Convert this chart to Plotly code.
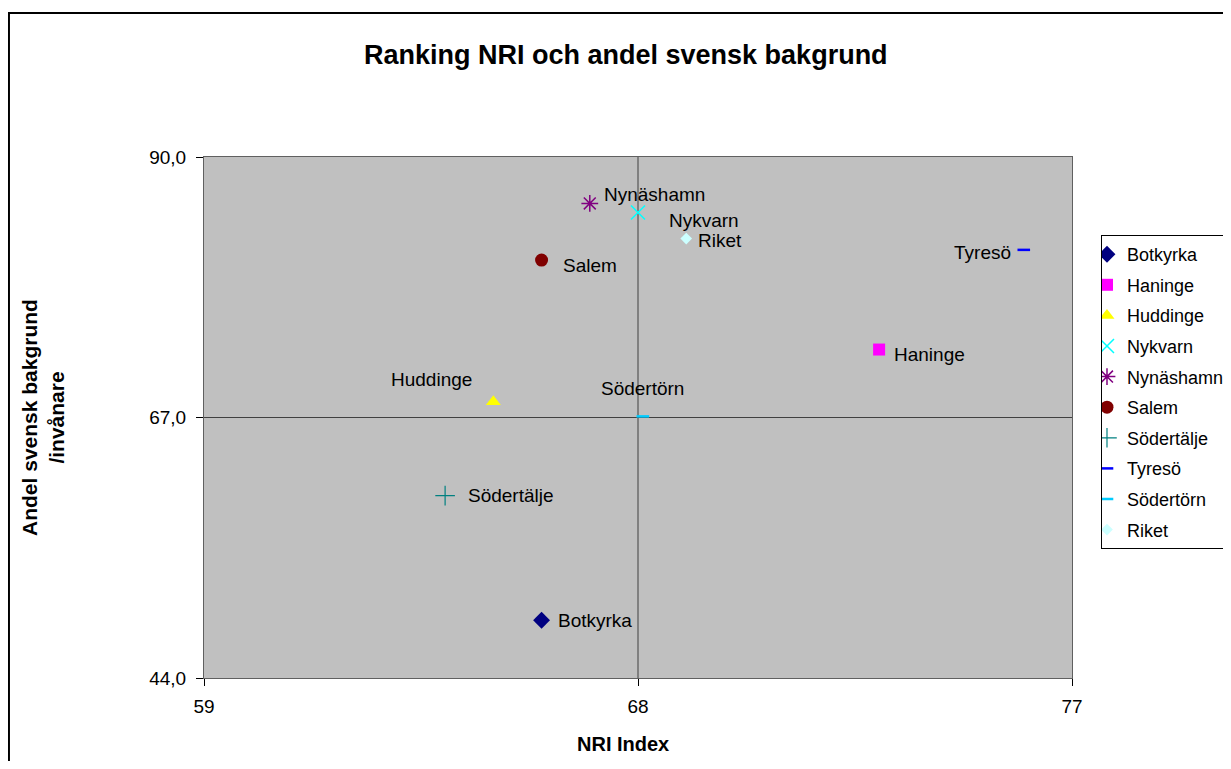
import plotly.graph_objects as go

# ---- data ----
names = ["Botkyrka", "Haninge", "Huddinge", "Nykvarn", "Nynäshamn",
         "Salem", "Södertälje", "Tyresö", "Södertörn", "Riket"]
nri_index = [66.0, 73.0, 65.0, 68.0, 67.0, 66.0, 64.0, 76.0, 68.1, 69.0]
andel_svensk = [49.1, 73.0, 68.4, 85.1, 85.9, 80.9, 60.1, 81.8, 67.1, 82.8]
x_ticks = [59, 68, 77]
y_ticks = [44.0, 67.0, 90.0]
cross_x = 68
cross_y = 67.0

# ---- styles ----
symbols = ["diamond", "square", "triangle-up", "x-thin-open", "asterisk-open",
           "circle", "cross-thin-open", "line-ew-open", "line-ew-open", "diamond"]
colors = ["#000080", "#FF00FF", "#FFFF00", "#00FFFF", "#800080",
          "#800000", "#008080", "#0000FF", "#00CCFF", "#CCFFFF"]
sizes = [13, 12, 13, 14, 14, 13, 14, 9, 9, 9]
line_w = [0, 0, 0, 1.5, 1.5, 0, 1.2, 2.5, 2.5, 0]
# label offsets (xanchor, xshift, yshift), same order as names
label_pos = [("left", 14, 0), ("left", 13, -5), ("right", -19, 22),
             ("left", 29, -8), ("left", 12, 9), ("left", 19, -5),
             ("left", 21, 0), ("right", -11, -3), ("center", 0, 28),
             ("left", 10, -2)]

FONT = "Liberation Sans, Arial, sans-serif"

fig = go.Figure()
for i, n in enumerate(names):
    fig.add_trace(go.Scatter(
        x=[nri_index[i]], y=[andel_svensk[i]], mode="markers", name=n,
        legendgroup=n,
        marker=dict(symbol=symbols[i], color=colors[i], size=sizes[i],
                    line=dict(color=colors[i], width=line_w[i])),
        cliponaxis=False,
    ))

annotations = []
for i, n in enumerate(names):
    xa, xs, ys = label_pos[i]
    annotations.append(dict(
        x=nri_index[i], y=andel_svensk[i], xref="x", yref="y", text=n,
        showarrow=False, xanchor=xa, yanchor="middle", xshift=xs, yshift=ys,
        font=dict(size=19, color="black", family=FONT)))

annotations += [
    dict(text="<b>Ranking NRI och andel svensk bakgrund</b>", x=0.486, y=1.1958,
         xref="paper", yref="paper", showarrow=False, xanchor="center",
         yanchor="middle", font=dict(size=27, color="black", family=FONT)),
    dict(text="<b>NRI Index</b>", x=0.4827, y=-0.1267, xref="paper", yref="paper",
         showarrow=False, xanchor="center", yanchor="middle",
         font=dict(size=20, color="black", family=FONT)),
    dict(text="<b>Andel svensk bakgrund<br>/invånare</b>", x=-0.1855, y=0.501,
         xref="paper", yref="paper", showarrow=False, xanchor="center",
         yanchor="middle", textangle=-90,
         font=dict(size=21, color="black", family=FONT)),
]

shapes = [
    dict(type="rect", xref="paper", yref="paper", x0=-0.2247, x1=1.4,
         y0=-0.4, y1=1.2764, line=dict(color="black", width=2),
         fillcolor="rgba(0,0,0,0)", layer="below"),
    dict(type="line", xref="x", yref="paper", x0=cross_x, x1=cross_x, y0=0, y1=1,
         line=dict(color="#404040", width=1), layer="below"),
    dict(type="line", xref="paper", yref="y", x0=0, x1=1, y0=cross_y, y1=cross_y,
         line=dict(color="#404040", width=1), layer="below"),
]

fig.update_layout(
    width=1215, height=753, autosize=False,
    margin=dict(l=196, r=151, t=149, b=83, pad=0, autoexpand=False),
    paper_bgcolor="white", plot_bgcolor="#C0C0C0",
    font=dict(family=FONT, size=19, color="black"),
    separators=",.",
    showlegend=True,
    legend=dict(x=1.0334, y=0.8503, xanchor="left", yanchor="top",
                bordercolor="black", borderwidth=1, bgcolor="white",
                font=dict(size=18, family=FONT, color="black"),
                itemwidth=30, tracegroupgap=4.2, indentation=-15),
    annotations=annotations, shapes=shapes,
    xaxis=dict(range=[59, 77], tickvals=x_ticks, ticks="outside", ticklen=7,
               tickcolor="black", showline=True, linecolor="#606060", mirror=True,
               showgrid=False, zeroline=False, ticklabelstandoff=4,
               tickfont=dict(size=19, family=FONT, color="black")),
    yaxis=dict(range=[44, 90], tickvals=y_ticks, tickformat=".1f", ticks="outside",
               ticklen=7, tickcolor="black", showline=True, linecolor="#606060",
               mirror=True, showgrid=False, zeroline=False, ticklabelstandoff=6,
               tickfont=dict(size=19, family=FONT, color="black")),
)

fig.write_html("out.html")
